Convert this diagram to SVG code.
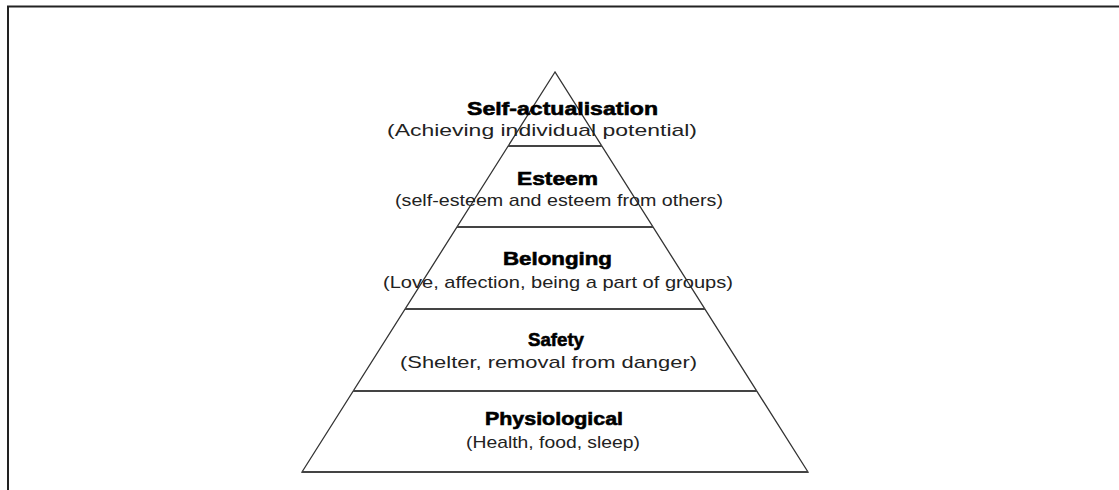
<svg xmlns="http://www.w3.org/2000/svg" width="1119" height="490" viewBox="0 0 1119 490">
<style>
.frame{stroke:#222;stroke-width:2;fill:none}
.edge{stroke:#333;stroke-width:1.3;fill:none}
.tier{stroke:#444;stroke-width:1.8;fill:none}
.t{font-family:"Liberation Sans",Arial,sans-serif;font-weight:bold;font-size:19px;fill:#000;stroke:#000;stroke-width:0.6}
.s{font-family:"Liberation Sans",Arial,sans-serif;font-size:17px;fill:#222}
</style>
<rect width="1119" height="490" fill="#fff"/>
<path class="frame" d="M8,490 V6.5 H1119"/>
<g id="pyramid">
<polygon class="edge" points="555,72 302,472 808,472"/>
<line class="tier" x1="302" y1="472" x2="808" y2="472"/>
</g>
<g id="connectors">
<line class="tier" x1="508" y1="146" x2="602" y2="146"/>
<line class="tier" x1="457" y1="227" x2="653" y2="227"/>
<line class="tier" x1="405" y1="309" x2="705" y2="309"/>
<line class="tier" x1="353" y1="391" x2="757" y2="391"/>
</g>
<g id="self-actualisation">
<text class="t" x="467" y="115" textLength="191" lengthAdjust="spacingAndGlyphs">Self-actualisation</text>
<text class="s" x="387" y="136" textLength="310" lengthAdjust="spacingAndGlyphs">(Achieving individual potential)</text>
</g>
<g id="esteem">
<text class="t" x="517" y="185" textLength="81" lengthAdjust="spacingAndGlyphs">Esteem</text>
<text class="s" x="395" y="206" textLength="328" lengthAdjust="spacingAndGlyphs">(self-esteem and esteem from others)</text>
</g>
<g id="belonging">
<text class="t" x="503" y="265" textLength="109" lengthAdjust="spacingAndGlyphs">Belonging</text>
<text class="s" x="383" y="288" textLength="350" lengthAdjust="spacingAndGlyphs">(Love, affection, being a part of groups)</text>
</g>
<g id="safety">
<text class="t" x="528" y="346" textLength="56" lengthAdjust="spacingAndGlyphs">Safety</text>
<text class="s" x="400" y="368" textLength="297" lengthAdjust="spacingAndGlyphs">(Shelter, removal from danger)</text>
</g>
<g id="physiological">
<text class="t" x="485" y="425" textLength="138" lengthAdjust="spacingAndGlyphs">Physiological</text>
<text class="s" x="466" y="448" textLength="174" lengthAdjust="spacingAndGlyphs">(Health, food, sleep)</text>
</g>
</svg>
